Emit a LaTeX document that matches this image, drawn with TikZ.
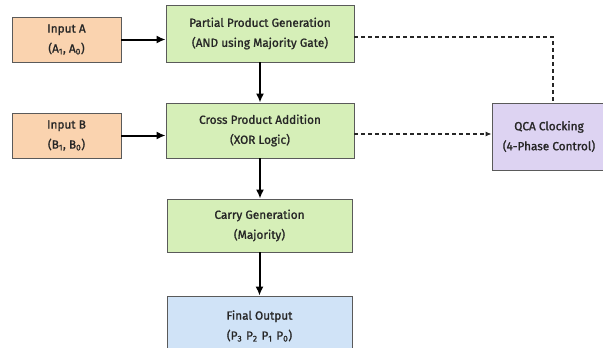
\documentclass[tikz,border=0pt]{standalone}
\usepackage{fontspec}
\setmainfont{Fira Sans}
\newfontfamily\boxfont{Fira Sans}[BoldFont=Fira Sans, BoldFeatures={FakeBold=1.2}]
\usetikzlibrary{arrows.meta}

\definecolor{inputfill}{HTML}{FAD3AF}
\definecolor{stagefill}{HTML}{D6EFB8}
\definecolor{outfill}{HTML}{D0E3F7}
\definecolor{clockfill}{HTML}{DDD3F2}
\definecolor{boxline}{HTML}{5A5A5A}

\tikzset{
  blockbox/.style={draw=boxline, line width=0.8pt, align=center, inner sep=0pt,
    text=black!85, font=\boxfont\bfseries\fontsize{11.8}{20}\selectfont},
  flow/.style={line width=2pt, -{Latex[length=9pt,width=8pt]}},
  clockflow/.style={line width=1.1pt, black!85, dash pattern=on 4pt off 3pt},
}

\begin{document}
\begin{tikzpicture}[x=1pt,y=-1pt]
	\useasboundingbox (0,0) rectangle (603,348);
	\clip (0,0) rectangle (603,348);

	% inputs
	\node[blockbox, fill=inputfill, minimum width=109pt, minimum height=45pt] (inA) at (66.5,39.5) {Input A\\(A\textsubscript{1}, A\textsubscript{0})};
	\node[blockbox, fill=inputfill, minimum width=109pt, minimum height=45pt] (inB) at (66.5,135.5) {Input B\\(B\textsubscript{1}, B\textsubscript{0})};

	% stages
	\node[blockbox, fill=stagefill, minimum width=188pt, minimum height=57pt] (pp) at (260,33.5) {Partial Product Generation\\(AND using Majority Gate)};
	\node[blockbox, fill=stagefill, minimum width=188pt, minimum height=55pt] (cross) at (260,130.5) {Cross Product Addition\\(XOR Logic)};
	\node[blockbox, fill=stagefill, minimum width=185pt, minimum height=53pt] (carry) at (259.5,225.5) {Carry Generation\\(Majority)};
	\node[blockbox, fill=outfill, minimum width=185pt, minimum height=60pt] (final) at (259.5,326) {Final Output\\(P\textsubscript{3}\,\,P\textsubscript{2}\,\,P\textsubscript{1}\,\,P\textsubscript{0})};

	% clocking
	\node[blockbox, fill=clockfill, minimum width=114pt, minimum height=67pt] (qca) at (549,136.5) {QCA Clocking\\(4-Phase Control)};

	\draw[flow] (inA.east) -- (inA.east -| pp.west);
	\draw[flow] (inB.east) -- (inB.east -| cross.west);
	\draw[flow] (pp.south) -- (cross.north);
	\draw[flow] (cross.south) -- (cross.south |- carry.north);
	\draw[flow] (carry.south) -- (final.north);

	\draw[clockflow] ([yshift=-3.5pt]pp.east) -| ([xshift=4pt]qca.north);
	\draw[clockflow, -{Latex[length=6pt,width=5pt]}] ([yshift=-3.5pt]cross.east) -- ([yshift=-3.5pt]cross.east -| qca.west);

\end{tikzpicture}
\end{document}
